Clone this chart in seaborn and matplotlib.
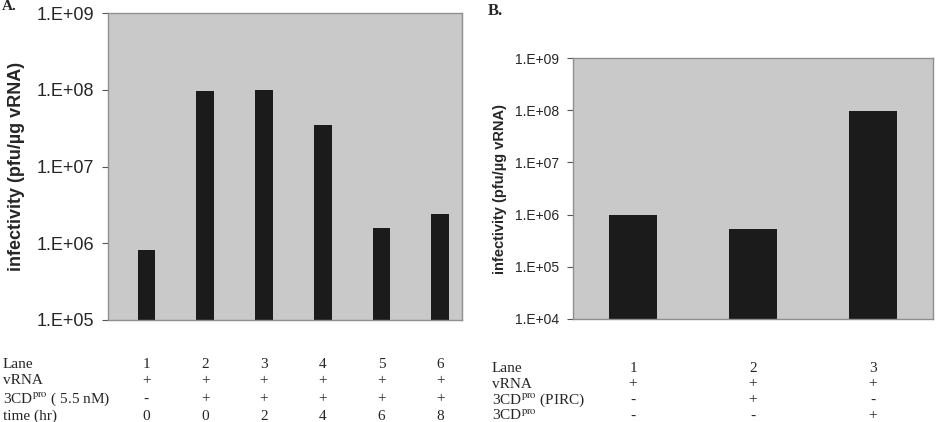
import matplotlib
matplotlib.use("Agg")
import matplotlib.pyplot as plt
import seaborn as sns
import pandas as pd

# ---- data ----
lanes_a = ["1", "2", "3", "4", "5", "6"]
infect_a = [8.1e5, 9.5e7, 1.0e8, 3.5e7, 1.57e6, 2.4e6]
vrna_a = ["+", "+", "+", "+", "+", "+"]
cd_a = ["-", "+", "+", "+", "+", "+"]
time_a = ["0", "0", "2", "4", "6", "8"]

lanes_b = ["1", "2", "3"]
infect_b = [1.0e6, 5.4e5, 9.6e7]
vrna_b = ["+", "+", "+"]
pirc_b = ["-", "+", "-"]
cd_b = ["-", "-", "+"]

yticks_a = [1e5, 1e6, 1e7, 1e8, 1e9]
yticklabels_a = ["1.E+05", "1.E+06", "1.E+07", "1.E+08", "1.E+09"]
yticks_b = [1e4, 1e5, 1e6, 1e7, 1e8, 1e9]
yticklabels_b = ["1.E+04", "1.E+05", "1.E+06", "1.E+07", "1.E+08", "1.E+09"]
ylabel = "infectivity (pfu/µg vRNA)"

sns.set_style("white")
plt.rcParams["font.family"] = ["Liberation Sans", "DejaVu Sans"]
plt.rcParams["mathtext.fontset"] = "stix"

fig = plt.figure(figsize=(9.38, 4.22), dpi=100)
BG = "#c9c9c9"
BAR = "#1b1b1b"
EDGE = "#8f8f8f"

def style_axes(ax, fs):
    ax.set_facecolor(BG)
    for s in ax.spines.values():
        s.set_color(EDGE)
        s.set_linewidth(1.0)
    ax.tick_params(axis="y", which="major", length=4, width=0.8, color="#555555", labelsize=fs, pad=6, left=True)
    ax.tick_params(axis="y", which="minor", length=0)
    ax.tick_params(axis="x", length=0, labelbottom=False)
    ax.set_xlabel("")

# ---- Panel A ----
axA = fig.add_axes([108/938, 1-320/422, 354/938, 307/422])
axA.set_yscale("log")
dfa = pd.DataFrame({"lane": lanes_a, "inf": infect_a})
sns.barplot(data=dfa, x="lane", y="inf", color=BAR, width=0.3, ax=axA,
            saturation=1, errorbar=None, edgecolor=BAR, linewidth=0)
axA.set_ylim(1e5, 1e9)
axA.set_xlim(-0.654, 5.37)
axA.set_yticks(yticks_a)
axA.set_yticklabels(yticklabels_a)
style_axes(axA, 13)
axA.set_ylabel(ylabel, fontsize=13, fontweight="bold", labelpad=8)

# ---- Panel B ----
axB = fig.add_axes([573/938, 1-319/422, 360/938, 261/422])
axB.set_yscale("log")
dfb = pd.DataFrame({"lane": lanes_b, "inf": infect_b})
sns.barplot(data=dfb, x="lane", y="inf", color=BAR, width=0.4, ax=axB,
            saturation=1, errorbar=None, edgecolor=BAR, linewidth=0)
axB.set_ylim(1e4, 1e9)
axB.set_xlim(-0.5, 2.5)
axB.set_yticks(yticks_b)
axB.set_yticklabels(yticklabels_b)
style_axes(axB, 10)
axB.set_ylabel(ylabel, fontsize=10.5, fontweight="bold", labelpad=6)

# ---- panel letters ----
serif = ["Liberation Serif", "DejaVu Serif"]
fig.text(2/938, 1.0, "A.", fontsize=11, fontweight="bold", family=serif, va="top", ha="left")
fig.text(488/938, 1-3/422, "B.", fontsize=12, fontweight="bold", family=serif, va="top", ha="left")

# ---- tables below ----
def table(ax, x0_fig, rows_y, names, cols, fs):
    for y, name, vals in zip(rows_y, names, cols):
        fig.text(x0_fig/938, 1-y/422, name, fontsize=fs, family=serif, va="center", ha="left")
        for i, v in enumerate(vals):
            xd = ax.transData.transform((i, 1))[0]
            fig.text(xd/938, 1-y/422, v, fontsize=fs, family=serif, va="center", ha="center")

rowsA = [364, 381, 399, 416]
namesA = ["Lane", "vRNA", "3CD$^{\\mathrm{pro}}$ ( 5.5 nM)", "time (hr)"]
table(axA, 3, rowsA, namesA, [lanes_a, vrna_a, cd_a, time_a], 11)

rowsB = [368, 384, 400, 416]
namesB = ["Lane", "vRNA", "3CD$^{\\mathrm{pro}}$ (PIRC)", "3CD$^{\\mathrm{pro}}$"]
table(axB, 492, rowsB, namesB, [lanes_b, vrna_b, pirc_b, cd_b], 11)

fig.savefig("out.png", dpi=100, facecolor="white")
